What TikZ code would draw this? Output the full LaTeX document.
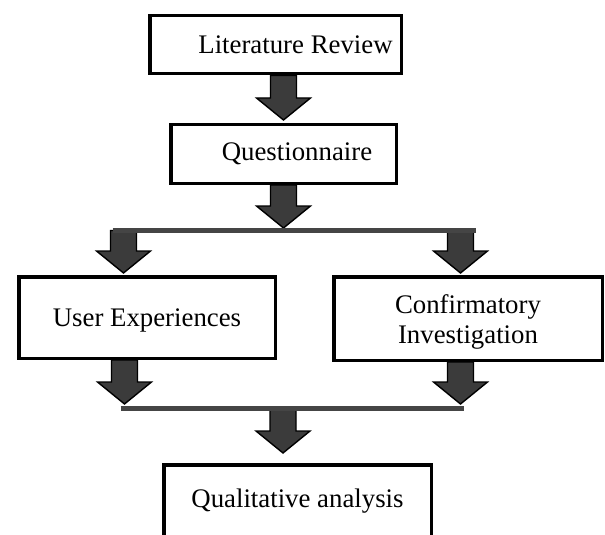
\documentclass[tikz,border=0pt]{standalone}
\usepackage{fontspec}
\setmainfont{Liberation Serif}
\usetikzlibrary{calc}

% block arrow from #1 (top of stem) down to #2 (tip)
\newcommand{\fatarrow}[2]{%
  \draw[fatarrow] let \p1=(#1), \p2=(#2) in
    (\x1-6.5pt,\y1) -- (\x1+6.5pt,\y1) -- (\x1+6.5pt,\y2+11pt)
    -- (\x1+13.5pt,\y2+11pt) -- (\x1,\y2) -- (\x1-13.5pt,\y2+11pt)
    -- (\x1-6.5pt,\y2+11pt) -- cycle;}

\begin{document}
\begin{tikzpicture}[x=0.5pt,y=-0.5pt,
    box/.style={draw,line width=1.75pt,fill=white,align=center,inner sep=0pt,
      font=\fontsize{13.4}{15}\selectfont},
    oneline/.style={text depth=0pt},
    fatarrow/.style={draw=black,line width=0.7pt,fill=black!77},
    bar/.style={draw=black!73,line width=2.5pt}]
  \useasboundingbox (0,0) rectangle (605,535);
  \clip (0,0) rectangle (605,535);

  \node[box,oneline,minimum width=125.75pt,minimum height=29pt] (lit) at (275.5,44.75) {\hspace*{20pt}Literature Review};
  \node[box,minimum width=112.75pt,minimum height=29.25pt] (q) at (283.5,154) {\hspace*{13.5pt}Questionnaire};
  \node[box,oneline,minimum width=128.25pt,minimum height=40.75pt] (ue) at (147,317.5) {User Experiences};
  \node[box,minimum width=134.25pt,minimum height=41.75pt] (ci) at (468,318.5) {\rule{0pt}{12.4pt}Confirmatory\\Investigation};
  \node[box,minimum width=133.75pt,minimum height=36.25pt] (qa) at (297.5,501) {Qualitative analysis};

  \coordinate (split) at (283.5,230.5);
  \coordinate (split-l) at (123.5,230.5);
  \coordinate (split-r) at (460.5,230.5);
  \coordinate (join) at (283,408.5);
  \coordinate (join-l) at (124.5,408.5);
  \coordinate (join-r) at (460.5,408.5);

  \fatarrow{q.north |- lit.south}{$(q.north)+(0,-3)$}
  \fatarrow{q.south}{$(split)+(0,-2.5)$}
  \fatarrow{split-l}{$(split-l |- ue.north)+(0,-2)$}
  \fatarrow{split-r}{$(split-r |- ci.north)+(0,-2)$}
  \fatarrow{join-l |- ue.south}{$(join-l)+(0,-4.5)$}
  \fatarrow{join-r |- ci.south}{$(join-r)+(0,-4.5)$}
  \fatarrow{join}{$(join |- qa.north)+(0,-10)$}

  \draw[bar] ([xshift=-5.5pt]split-l) -- ([xshift=7.5pt]split-r);
  \draw[bar] ([xshift=-2pt]join-l) -- ([xshift=1.75pt]join-r);
\end{tikzpicture}
\end{document}
